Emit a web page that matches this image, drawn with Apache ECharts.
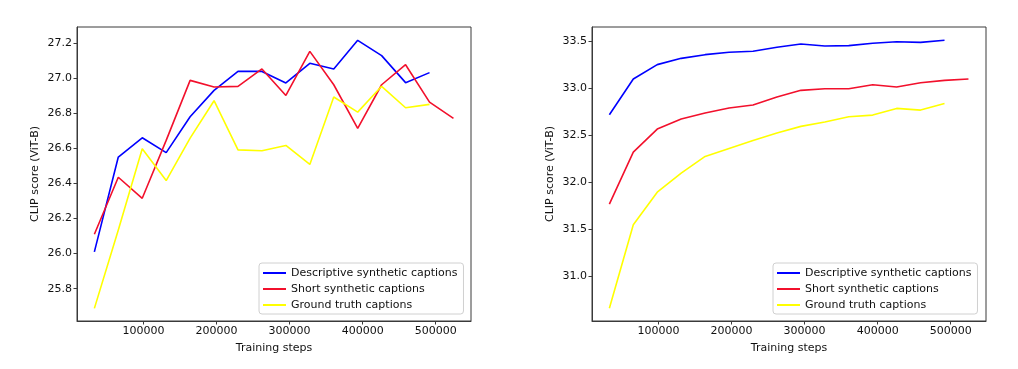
<!DOCTYPE html>
<html>
<head>
<meta charset="utf-8">
<script src="https://cdn.jsdelivr.net/npm/echarts@6/dist/echarts.min.js"></script>
<style>html,body{margin:0;padding:0;background:#fff}#c{width:1018px;height:369px}</style>
</head>
<body>
<div id="c"></div>
<script>
// Training steps (k * 32768)
const stepsLong = [32768,65536,98304,131072,163840,196608,229376,262144,294912,327680,360448,393216,425984,458752,491520,524288];
const seriesNames = ['Descriptive synthetic captions','Short synthetic captions','Ground truth captions'];

// Left panel
const leftDescriptive = [26.01,26.55,26.66,26.575,26.78,26.93,27.038,27.038,26.972,27.084,27.052,27.215,27.128,26.974,27.031];
const leftShort = [26.11,26.435,26.315,26.645,26.987,26.949,26.953,27.052,26.901,27.152,26.962,26.713,26.962,27.076,26.863,26.77];
const leftGround = [25.688,26.135,26.597,26.416,26.658,26.871,26.591,26.586,26.616,26.508,26.892,26.806,26.953,26.831,26.85];

// Right panel
const rightDescriptive = [32.72,33.099,33.252,33.319,33.358,33.383,33.394,33.436,33.472,33.45,33.454,33.479,33.496,33.489,33.511];
const rightShort = [31.77,32.323,32.567,32.674,32.738,32.791,32.823,32.908,32.979,32.996,32.996,33.039,33.014,33.06,33.085,33.099];
const rightGround = [30.663,31.55,31.897,32.1,32.277,32.362,32.447,32.525,32.596,32.642,32.699,32.716,32.787,32.769,32.84];

const xTicks = [100000,200000,300000,400000,500000];
const leftYTicks = [25.8,26.0,26.2,26.4,26.6,26.8,27.0,27.2];
const rightYTicks = [31.0,31.5,32.0,32.5,33.0,33.5];

const colors = ['#0000ff','#f2102c','#ffff00'];
const FONT = 'DejaVu Sans';
const FS = 11;

function pairs(vals){ return vals.map((v,i)=>[stepsLong[i], v]); }

function xAxis(gi){
  return {
    type:'value', gridIndex:gi, min:9000, max:548300,
    name:'Training steps', nameLocation:'middle', nameGap:22,
    nameTextStyle:{fontFamily:FONT,fontSize:FS,color:'#111'},
    splitLine:{show:false},
    axisLine:{show:true,lineStyle:{color:'#3a3a3a',width:1}},
    axisTick:{show:true,length:3.5,lineStyle:{color:'#3a3a3a'},customValues:xTicks},
    axisLabel:{fontFamily:FONT,fontSize:FS,color:'#111',margin:5,customValues:xTicks,formatter:v=>String(v)}
  };
}
function yAxis(gi,min,max,ticks){
  return {
    type:'value', gridIndex:gi, min:min, max:max,
    name:'CLIP score (ViT-B)', nameLocation:'middle', nameGap:36, nameRotate:90,
    nameTextStyle:{fontFamily:FONT,fontSize:FS,color:'#111'},
    splitLine:{show:false},
    axisLine:{show:true,lineStyle:{color:'#3a3a3a',width:1}},
    axisTick:{show:true,length:3.5,lineStyle:{color:'#3a3a3a'},customValues:ticks},
    axisLabel:{fontFamily:FONT,fontSize:FS,color:'#111',margin:5,customValues:ticks,formatter:v=>v.toFixed(1)}
  };
}
function line(name,gi,vals,color){
  return {
    name:name, type:'line', xAxisIndex:gi, yAxisIndex:gi, data:pairs(vals),
    showSymbol:false, symbol:'none', animation:false,
    lineStyle:{color:color,width:1.6}, itemStyle:{color:color}
  };
}
function legend(left,top){
  return {
    orient:'vertical', left:left, top:top,
    data:seriesNames, icon:'rect', itemWidth:23, itemHeight:2, itemGap:4, itemTextGap:10,
    backgroundColor:'#fff', borderColor:'#d0d0d0', borderWidth:1, borderRadius:3,
    padding:[4,6,3,4], selectedMode:false,
    textStyle:{fontFamily:FONT,fontSize:FS,color:'#111',lineHeight:12}
  };
}

const chart = echarts.init(document.getElementById('c'), null, {renderer:'canvas'});
chart.setOption({
  animation:false,
  backgroundColor:'#fff',
  color:colors,
  grid:[
    {left:77,top:27,width:394,height:294,show:true,borderColor:'#3a3a3a',borderWidth:1,backgroundColor:'transparent'},
    {left:592,top:27,width:394,height:294,show:true,borderColor:'#3a3a3a',borderWidth:1,backgroundColor:'transparent'}
  ],
  xAxis:[xAxis(0),xAxis(1)],
  yAxis:[yAxis(0,25.616,27.291,leftYTicks),yAxis(1,30.528,33.652,rightYTicks)],
  legend:[legend(259,263),legend(773,263)],
  series:[
    line(seriesNames[0],0,leftDescriptive,colors[0]),
    line(seriesNames[1],0,leftShort,colors[1]),
    line(seriesNames[2],0,leftGround,colors[2]),
    line(seriesNames[0],1,rightDescriptive,colors[0]),
    line(seriesNames[1],1,rightShort,colors[1]),
    line(seriesNames[2],1,rightGround,colors[2])
  ]
});
</script>
</body>
</html>
